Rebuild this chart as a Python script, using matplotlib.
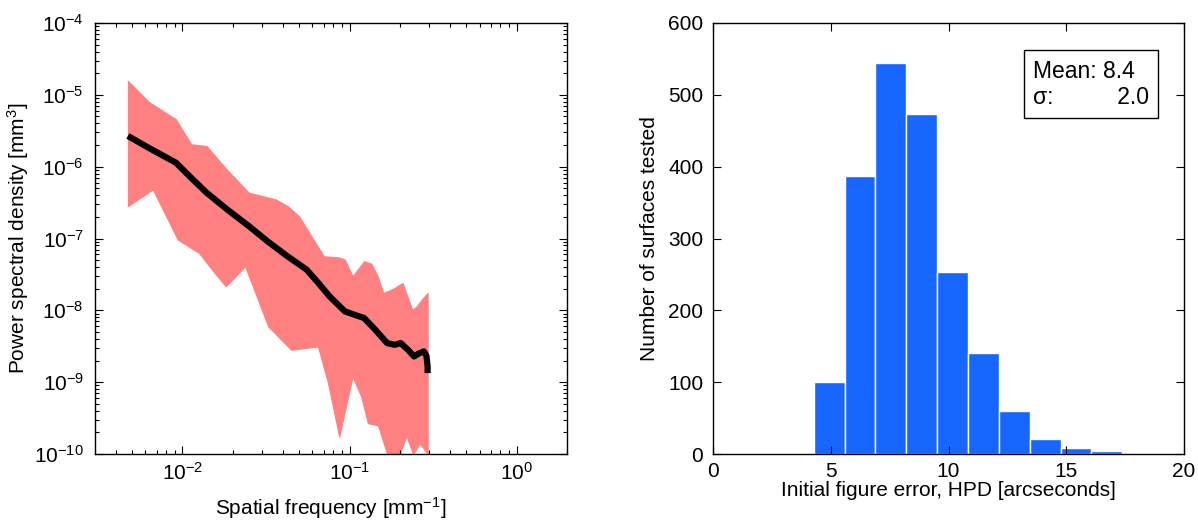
import matplotlib
matplotlib.use("Agg")
from matplotlib import pyplot as plt
from matplotlib.ticker import LogLocator, FixedLocator, NullFormatter
import numpy as np

plt.rcParams['font.family'] = ['Liberation Sans', 'DejaVu Sans']
plt.rcParams['mathtext.default'] = 'regular'

# --- left panel: power spectral density (log10 values) ---
mean_logf = [-2.326, -2.20, -2.039, -1.95, -1.855, -1.73, -1.602, -1.49, -1.372,
             -1.257, -1.19, -1.120, -1.028, -0.96, -0.913, -0.85, -0.775, -0.73,
             -0.694, -0.65, -0.614, -0.585, -0.556, -0.540, -0.533, -0.533]
mean_logpsd = [-5.572, -5.74, -5.944, -6.15, -6.363, -6.60, -6.828, -7.04, -7.247,
               -7.433, -7.61, -7.805, -8.014, -8.07, -8.107, -8.26, -8.456, -8.48,
               -8.456, -8.55, -8.642, -8.60, -8.572, -8.63, -8.78, -8.874]

upper_logf = [-2.326, -2.20, -2.039, -1.947, -1.855, -1.75, -1.602, -1.441, -1.37,
              -1.303, -1.154, -1.07, -1.028, -0.982, -0.913, -0.87, -0.832, -0.798,
              -0.74, -0.683, -0.625, -0.60, -0.568, -0.533]
upper_logpsd = [-4.805, -5.10, -5.340, -5.688, -5.712, -6.00, -6.363, -6.456, -6.55,
                -6.688, -7.247, -7.26, -7.293, -7.526, -7.316, -7.35, -7.526, -7.758,
                -7.70, -7.619, -7.99, -7.95, -7.85, -7.758]

lower_logf = [-2.326, -2.177, -2.028, -1.901, -1.80, -1.74, -1.625, -1.487, -1.349,
              -1.189, -1.13, -1.062, -0.982, -0.93, -0.89, -0.83, -0.775, -0.70,
              -0.66, -0.62, -0.58, -0.533]
lower_logpsd = [-6.549, -6.316, -7.014, -7.200, -7.50, -7.665, -7.386, -8.223, -8.549,
                -8.502, -9.00, -9.758, -8.921, -9.20, -9.572, -9.60, -10.0, -10.0,
                -9.75, -10.0, -9.85, -10.0]

# --- right panel: histogram of initial figure error ---
bin_edges = [4.28, 5.59, 6.90, 8.21, 9.52, 10.83, 12.14, 13.45, 14.76, 16.07, 17.38]
counts = [100, 387, 545, 474, 253, 140, 60, 21, 9, 4]
mean_hpd = 8.4
sigma_hpd = 2.0

pink = "#FF8080"
blue = "#1766FF"

W, H = 1198, 522
fig = plt.figure(figsize=(W / 100, H / 100), dpi=100)
ax1 = fig.add_axes([95 / W, 1 - 454 / H, 472 / W, 431 / H])
ax2 = fig.add_axes([713 / W, 1 - 454 / H, 471 / W, 431 / H])

# pink band of individual spectra, shown as its envelope
common_f = np.array(sorted(set(upper_logf) | set(lower_logf)))
up = np.interp(common_f, upper_logf, upper_logpsd)
lo = np.interp(common_f, lower_logf, lower_logpsd)
ax1.fill_between(10 ** common_f, 10 ** lo, 10 ** up, color=pink, lw=0.8,
                 edgecolor=pink)
ax1.plot(10 ** np.array(mean_logf), 10 ** np.array(mean_logpsd), color="black",
         lw=4.5, solid_capstyle="butt")

ax1.set_xscale("log")
ax1.set_yscale("log")
ax1.set_xlim(0.003, 2.0)
ax1.set_ylim(1e-10, 1e-4)
ax1.yaxis.set_major_locator(FixedLocator([10.0 ** k for k in range(-10, -3)]))
ax1.set_yticklabels([f"$10^{{{k}}}$" for k in range(-10, -3)])
ax1.xaxis.set_major_locator(FixedLocator([1e-2, 1e-1, 1e0]))
ax1.set_xticklabels(["$10^{-2}$", "$10^{-1}$", "$10^{0}$"])
ax1.xaxis.set_minor_locator(LogLocator(base=10, subs=np.arange(2, 10)))
ax1.yaxis.set_minor_locator(LogLocator(base=10, subs=np.arange(2, 10)))
ax1.xaxis.set_minor_formatter(NullFormatter())
ax1.yaxis.set_minor_formatter(NullFormatter())
ax1.set_xlabel("Spatial frequency [mm$^{-1}$]", fontsize=15)
ax1.set_ylabel("Power spectral density [mm$^{3}$]", fontsize=15)
ax1.xaxis.set_label_coords(0.5, -0.095)
ax1.yaxis.set_label_coords(-0.135, 0.5)

ax2.bar(bin_edges[:-1], counts, width=np.diff(bin_edges), align="edge",
        color=blue, edgecolor="white", linewidth=1)
ax2.set_xlim(0, 20)
ax2.set_ylim(0, 600)
ax2.set_xticks([0, 5, 10, 15, 20])
ax2.set_yticks(range(0, 601, 100))
ax2.set_xlabel("Initial figure error, HPD [arcseconds]", fontsize=15)
ax2.set_ylabel("Number of surfaces tested", fontsize=15)
ax2.xaxis.set_label_coords(0.5, -0.062)
ax2.yaxis.set_label_coords(-0.115, 0.5)
ax2.text(0.68, 0.915, f"Mean: {mean_hpd:.1f}\n\u03c3:          {sigma_hpd:.1f}",
         transform=ax2.transAxes, fontsize=16.5, va="top", ha="left",
         linespacing=1.2,
         bbox=dict(boxstyle="square,pad=0.4", facecolor="white",
                   edgecolor="black", lw=1))

for ax in (ax1, ax2):
    ax.tick_params(which="both", direction="in", top=True, right=True,
                   labelsize=15, width=0.8)
    ax.tick_params(which="major", length=6)
    ax.tick_params(which="minor", length=3)
    for s in ax.spines.values():
        s.set_linewidth(1)
ax1.tick_params(axis="y", which="major", pad=8)
ax1.tick_params(axis="x", which="major", pad=6)
ax2.tick_params(axis="y", which="major", pad=7)
ax2.tick_params(axis="x", which="major", pad=6)

fig.savefig("out.png", dpi=100)
